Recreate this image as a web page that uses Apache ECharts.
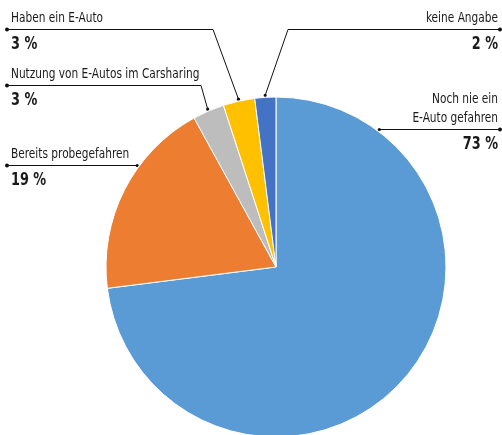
<!DOCTYPE html>
<html>
<head>
<meta charset="utf-8">
<script src="https://cdn.jsdelivr.net/npm/echarts@6/dist/echarts.min.js"></script>
<style>
  html, body { margin: 0; padding: 0; background: #fff; }
  #chart { width: 502px; height: 435px; }
</style>
</head>
<body>
<div id="chart"></div>
<script>
// Slices, clockwise from twelve o'clock
const categories = ['Noch nie ein\nE-Auto gefahren', 'Bereits probegefahren', 'Nutzung von E-Autos im Carsharing', 'Haben ein E-Auto', 'keine Angabe'];
const shares = [73, 19, 3, 3, 2];
const sliceColors = ['#5B9BD5', '#ED7D31', '#BDBDBD', '#FFC000', '#4472C4'];

// Pie geometry (px)
const CX = 276, CY = 267, R = 170, ANCHOR_R = 172;
const FONT = "'DejaVu Sans Condensed', 'DejaVu Sans', sans-serif";
const INK = '#1a1a1a';
const SQUEEZE = 0.84; // horizontal squeeze for a condensed look

// Callout placement: side of the page, height of the leader line, optional elbow
const callouts = [
  { side: 'right', lineY: 129.5, elbowX: null },
  { side: 'left',  lineY: 165.5, elbowX: null },
  { side: 'left',  lineY: 85.5,  elbowX: 201 },
  { side: 'left',  lineY: 29.5,  elbowX: 213 },
  { side: 'right', lineY: 29.5,  elbowX: 288 }
];
const LEFT_END = 7, RIGHT_END = 500, LEFT_TEXT = 11, RIGHT_TEXT = 498;

const total = shares.reduce((a, b) => a + b, 0);
function midAngle(i) {
  let cum = 0;
  for (let k = 0; k < i; k++) cum += shares[k];
  return (cum + shares[i] / 2) / total * 2 * Math.PI;
}
function geometry(i) {
  const c = callouts[i];
  let anchor, elbow;
  if (c.elbowX === null) {
    const dy = c.lineY - CY;
    const dx = Math.sqrt(ANCHOR_R * ANCHOR_R - dy * dy);
    anchor = [c.side === 'left' ? CX - dx : CX + dx, c.lineY];
    elbow = anchor.slice();
  } else {
    const a = midAngle(i);
    anchor = [CX + ANCHOR_R * Math.sin(a), CY - ANCHOR_R * Math.cos(a)];
    elbow = [c.elbowX, c.lineY];
  }
  const end = [c.side === 'left' ? LEFT_END : RIGHT_END, c.lineY];
  return { anchor, elbow, end };
}

// Callouts: leader line, end dots, name above the line, share below it
const calloutElements = [];
categories.forEach((name, i) => {
  const c = callouts[i];
  const g = geometry(i);
  const tx = c.side === 'left' ? LEFT_TEXT : RIGHT_TEXT;
  calloutElements.push({
    type: 'polyline', silent: true,
    shape: { points: [g.end, g.elbow, g.anchor] },
    style: { stroke: '#111', lineWidth: 1, fill: null }
  });
  calloutElements.push({ type: 'circle', silent: true, shape: { cx: g.end[0], cy: g.end[1], r: 2 }, style: { fill: '#111' } });
  calloutElements.push({ type: 'circle', silent: true, shape: { cx: g.anchor[0], cy: g.anchor[1], r: 1.6 }, style: { fill: '#111' } });
  const lines = name.split('\n');
  lines.forEach((ln, k) => {
    calloutElements.push({
      type: 'text', silent: true,
      x: tx, y: c.lineY - 11 - (lines.length - 1 - k) * 19,
      scaleX: SQUEEZE,
      style: { text: ln, font: '14px ' + FONT, fill: INK, align: c.side, verticalAlign: 'middle' }
    });
  });
  calloutElements.push({
    type: 'text', silent: true,
    x: tx, y: c.lineY + 15,
    scaleX: SQUEEZE,
    style: { text: shares[i] + ' %', font: 'bold 17px ' + FONT, fill: INK, align: c.side, verticalAlign: 'middle' }
  });
});

const chart = echarts.init(document.getElementById('chart'), null, { renderer: 'canvas' });
chart.setOption({
  backgroundColor: '#fff',
  animation: false,
  series: [{
    type: 'pie',
    center: [CX, CY],
    radius: R,
    startAngle: 90,
    clockwise: true,
    data: categories.map((n, i) => ({ name: n, value: shares[i], itemStyle: { color: sliceColors[i] } })),
    itemStyle: { borderColor: '#fff', borderWidth: 1 },
    emphasis: { disabled: true },
    label: { show: false },
    labelLine: { show: false }
  }],
  graphic: calloutElements
});
</script>
</body>
</html>
